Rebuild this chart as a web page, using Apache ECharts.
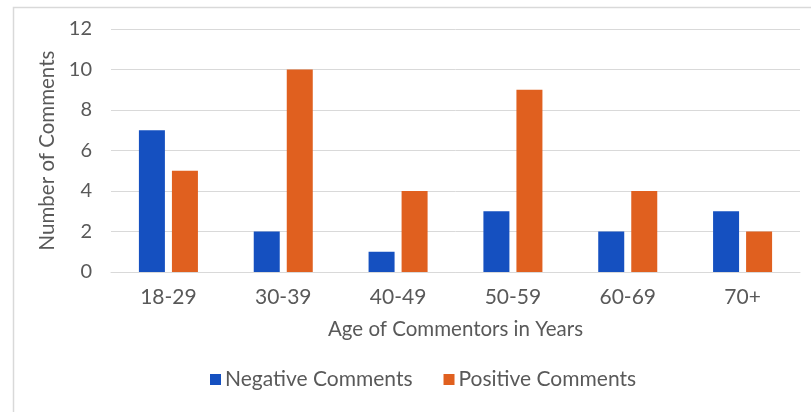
<!DOCTYPE html>
<html>
<head>
<meta charset="utf-8">
<script src="https://cdn.jsdelivr.net/npm/echarts@6/dist/echarts.min.js"></script>
<style>
  html, body { margin: 0; padding: 0; background: #fff; }
  #chart { width: 811px; height: 412px; }
</style>
</head>
<body>
<div id="chart"></div>
<script>
// Age groups and comment counts per group
const ageGroups = ['18-29', '30-39', '40-49', '50-59', '60-69', '70+'];
const negativeComments = [7, 2, 1, 3, 2, 3];
const positiveComments = [5, 10, 4, 9, 4, 2];
const seriesNames = ['Negative Comments', 'Positive Comments'];
const yTicks = { min: 0, max: 12, interval: 2 };

const textColor = '#595959';
const fontFamily = 'Lato, "Open Sans", sans-serif';

const chart = echarts.init(document.getElementById('chart'), null, { renderer: 'canvas' });

chart.setOption({
  backgroundColor: '#ffffff',
  animation: false,
  textStyle: { fontFamily: fontFamily, color: textColor },
  graphic: [{
    type: 'rect',
    left: 11,
    top: 5,
    shape: { x: 0.5, y: 0.5, width: 900, height: 500 },
    style: { fill: 'none', stroke: '#d9d9d9', lineWidth: 1.5 },
    silent: true,
    z: -1
  }],
  grid: { left: 111, right: 11, top: 29, bottom: 140, containLabel: false },
  legend: {
    data: seriesNames,
    bottom: 17,
    left: 205,
    itemWidth: 11,
    itemHeight: 11,
    itemGap: 31,
    icon: 'rect',
    textStyle: { fontFamily: fontFamily, fontSize: 21, color: textColor, padding: [0, 0, 0, -1] }
  },
  xAxis: {
    type: 'category',
    data: ageGroups,
    name: 'Age of Commentors in Years',
    nameLocation: 'middle',
    nameGap: 47,
    nameTextStyle: { fontFamily: fontFamily, fontSize: 20.5, color: textColor },
    axisLine: { lineStyle: { color: '#d9d9d9', width: 1 } },
    axisTick: { show: false },
    axisLabel: { fontFamily: fontFamily, fontSize: 21, color: textColor, margin: 15 }
  },
  yAxis: {
    type: 'value',
    min: yTicks.min,
    max: yTicks.max,
    interval: yTicks.interval,
    name: 'Number of Comments',
    nameLocation: 'middle',
    nameGap: 53,
    nameTextStyle: { fontFamily: fontFamily, fontSize: 20.5, color: textColor },
    axisLine: { show: false },
    axisTick: { show: false },
    axisLabel: { fontFamily: fontFamily, fontSize: 20, color: textColor, margin: 19 },
    splitLine: { lineStyle: { color: '#d9d9d9', width: 1 } }
  },
  series: [
    {
      name: seriesNames[0],
      type: 'bar',
      data: negativeComments,
      barWidth: 26,
      barGap: '27%',
      itemStyle: { color: '#1550c0' }
    },
    {
      name: seriesNames[1],
      type: 'bar',
      data: positiveComments,
      barWidth: 26,
      barGap: '27%',
      itemStyle: { color: '#e0601f' }
    }
  ]
});
</script>
</body>
</html>
